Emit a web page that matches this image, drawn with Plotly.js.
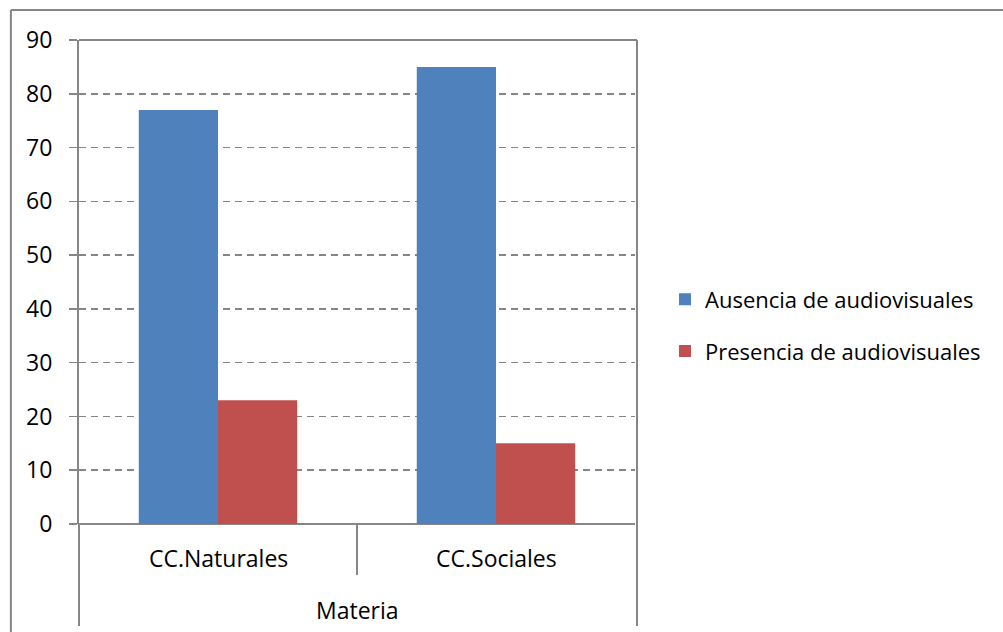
<!DOCTYPE html>
<html>
<head>
<meta charset="utf-8">
<script src="https://cdn.plot.ly/plotly-3.0.1.min.js"></script>
<style>
html,body{margin:0;padding:0;background:#fff;}
#chart{width:1003px;height:632px;}
</style>
</head>
<body>
<div id="chart"></div>
<script>
const categories = ["CC.Naturales", "CC.Sociales"];
const groupLabel = "Materia";
const seriesNames = ["Ausencia de audiovisuales", "Presencia de audiovisuales"];
const ausencia = [77, 85];
const presencia = [23, 15];
const yTicks = [0, 10, 20, 30, 40, 50, 60, 70, 80, 90];

const FONT = "Open Sans, Noto Sans, sans-serif";
const FS = 23;
const GRID = "#868686";

const traces = [
  {type: "bar", name: seriesNames[0], x: categories, y: ausencia, legendgroup: "a",
   marker: {color: "#4F81BD", line: {width: 0}}},
  {type: "bar", name: seriesNames[1], x: categories, y: presencia, legendgroup: "b",
   marker: {color: "#C0504D", line: {width: 0}}}
];

const shapes = [
  // outer chart border
  {type: "line", xref: "paper", yref: "paper", x0: -0.1225, x1: -0.1225, y0: 1.0620, y1: -0.25, line: {color: GRID, width: 2}},
  {type: "line", xref: "paper", yref: "paper", x0: -0.1225, x1: 1.8, y0: 1.0620, y1: 1.0620, line: {color: GRID, width: 2}},
  // plot area top and right borders
  {type: "line", xref: "paper", yref: "paper", x0: 0, x1: 1.0036, y0: 1, y1: 1, line: {color: GRID, width: 2}},
  {type: "line", xref: "paper", yref: "paper", x0: 1.0036, x1: 1.0036, y0: 1, y1: -0.2107, line: {color: GRID, width: 2}},
  // category axis dividers
  {type: "line", xref: "paper", yref: "paper", x0: 0, x1: 0, y0: 0, y1: -0.2107, line: {color: GRID, width: 2}},
  {type: "line", xref: "paper", yref: "paper", x0: 0.5, x1: 0.5, y0: 0, y1: -0.1054, line: {color: GRID, width: 2}}
];

const annotations = categories.map(c => ({
  xref: "x", yref: "paper", x: c, y: -0.0702, yanchor: "middle", showarrow: false,
  text: c, font: {family: FONT, size: FS, color: "#000"}
}));
annotations.push({
  xref: "paper", yref: "paper", x: 0.5, y: -0.1777, yanchor: "middle", showarrow: false,
  text: groupLabel, font: {family: FONT, size: FS, color: "#000"}
});

const layout = {
  width: 1003, height: 632,
  margin: {l: 79, r: 368, t: 40, b: 108, pad: 0, autoexpand: false},
  paper_bgcolor: "#fff", plot_bgcolor: "#fff",
  barmode: "group", bargap: 0.43, bargroupgap: 0,
  font: {family: FONT, size: FS, color: "#000"},
  xaxis: {
    type: "category", showticklabels: false, ticks: "", showgrid: false,
    showline: false, zeroline: false, fixedrange: true, automargin: false
  },
  yaxis: {
    range: [0, 90], tickvals: yTicks, ticktext: yTicks.map(String),
    showgrid: true, gridcolor: GRID, gridwidth: 1.5, griddash: "7px,5px",
    showline: true, linecolor: GRID, linewidth: 2,
    ticks: "outside", ticklen: 8, tickcolor: GRID, tickwidth: 1.5,
    zeroline: true, zerolinecolor: GRID, zerolinewidth: 2,
    tickfont: {family: FONT, size: FS, color: "#000"}, ticklabelstandoff: 12,
    fixedrange: true, automargin: false
  },
  legend: {
    x: 1.054, y: 0.41, xanchor: "left", yanchor: "middle",
    font: {family: FONT, size: 22, color: "#000"},
    tracegroupgap: 20, itemwidth: 30, bgcolor: "rgba(0,0,0,0)"
  },
  shapes: shapes,
  annotations: annotations,
  showlegend: true
};

Plotly.newPlot("chart", traces, layout, {displayModeBar: false, staticPlot: true});
</script>
</body>
</html>
